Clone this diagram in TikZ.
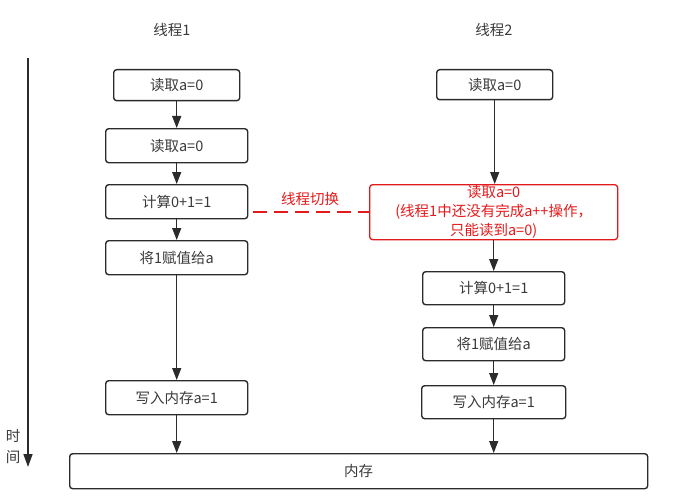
\documentclass[tikz,border=0pt]{standalone}
\usepackage{fontspec}
\setmainfont{Noto Sans CJK SC}
\usetikzlibrary{arrows.meta}
\definecolor{ln}{HTML}{2B2B2B}
\definecolor{tx}{HTML}{3A3A3A}
\definecolor{rd}{HTML}{E31A1C}
\begin{document}
\begin{tikzpicture}[x=1pt,y=-1pt,
  box/.style={draw=ln, line width=1.4pt, rounded corners=3pt, font=\fontsize{14.5}{16}\selectfont, text=tx, inner sep=0pt, anchor=north west, align=center},
  redbox/.style={box, draw=rd, text=rd, line width=1.3pt, font=\fontsize{14.5}{19}\selectfont},
  lbl/.style={font=\fontsize{14.5}{16}\selectfont, text=tx, inner sep=0pt},
  flow/.style={draw=ln, line width=1.3pt, -{Triangle[length=12pt,width=9pt]}},
  axisline/.style={draw=ln, line width=1.6pt, -{Triangle[length=13pt,width=9pt]}},
  switchline/.style={draw=rd, line width=2.6pt, dash pattern=on 14pt off 7pt}
]
\useasboundingbox (0,0) rectangle (682,500);
% headers
\node[lbl] (h1) at (172,30) {线程1};
\node[lbl] (h2) at (494,30) {线程2};
% time axis
\coordinate (ts) at (28,58);
\coordinate (te) at (28,467);
\draw[axisline] (ts) -- (te);
\node[lbl] (tm1) at (13,436) {时};
\node[lbl] (tm2) at (13,457) {间};
% thread 1
\node[box, minimum width=126pt, minimum height=31pt] (t1a) at (113,69) {读取a=0};
\node[box, minimum width=142pt, minimum height=34pt] (t1b) at (105,128) {读取a=0};
\node[box, minimum width=142pt, minimum height=34pt] (t1c) at (105,184) {计算0+1=1};
\node[box, minimum width=142pt, minimum height=34pt] (t1d) at (105,240) {将1赋值给a};
\node[box, minimum width=142pt, minimum height=34pt] (t1e) at (105,380) {写入内存a=1};
% memory
\node[box, minimum width=578pt, minimum height=35pt] (mem) at (69,453) {内存};
% thread 2
\node[box, minimum width=116pt, minimum height=30pt] (t2a) at (436,69) {读取a=0};
\node[redbox, minimum width=248pt, minimum height=55pt] (t2r) at (369,184) {读取a=0\\(线程1中还没有完成a++操作，\\只能读到a=0)};
\node[box, minimum width=142pt, minimum height=33pt] (t2c) at (422,271) {计算0+1=1};
\node[box, minimum width=142pt, minimum height=33pt] (t2d) at (422,327) {将1赋值给a};
\node[box, minimum width=144pt, minimum height=33pt] (t2e) at (421,385) {写入内存a=1};
% arrows thread 1
\draw[flow] (t1a) -- (t1b);
\draw[flow] (t1b) -- (t1c);
\draw[flow] (t1c) -- (t1d);
\draw[flow] (t1d) -- (t1e);
\draw[flow] (t1e.south) -- (t1e.south |- mem.north);
% arrows thread 2
\draw[flow] (t2a.south) -- (t2a.south |- t2r.north);
\draw[flow] (t2r.south -| t2c.north) -- (t2c.north);
\draw[flow] (t2c) -- (t2d);
\draw[flow] (t2d) -- (t2e);
\draw[flow] (t2e.south) -- (t2e.south |- mem.north);
% thread switch
\coordinate (sw) at ([xshift=5pt]t1c.east |- t2r.west);
\draw[switchline] (sw) -- (t2r.west);
\node[lbl, text=rd] (swl) at (310,199) {线程切换};
\end{tikzpicture}
\end{document}
